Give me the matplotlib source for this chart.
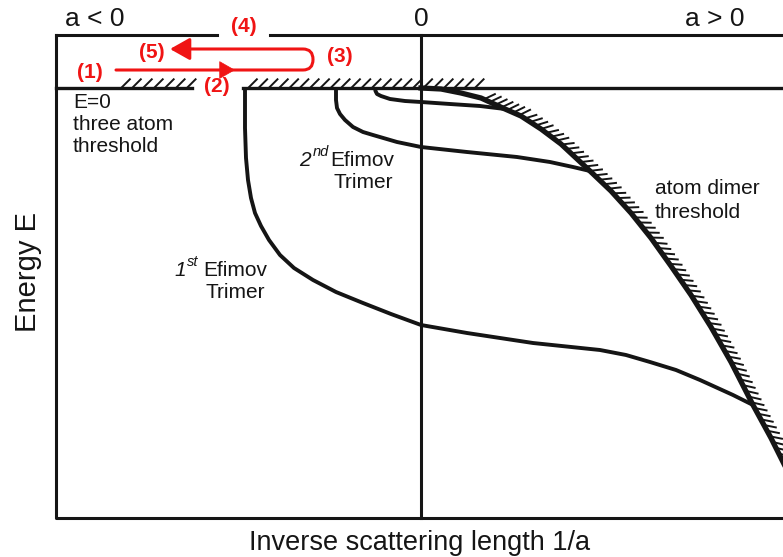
import numpy as np
import matplotlib.pyplot as plt
import matplotlib.patheffects as pe
from matplotlib.path import Path
from matplotlib.patches import FancyArrowPatch

plt.rcParams['font.family'] = ['Liberation Sans', 'DejaVu Sans']

# x = inverse scattering length 1/a (0 at resonance), E = energy (0 at three atom threshold)
dimer_x = [0.0, 0.2, 0.4, 0.6, 0.84, 1.0, 1.2, 1.4, 1.69, 1.9, 2.1, 2.3, 2.5, 2.7, 2.9, 3.1, 3.32, 3.5, 3.65]
dimer_E = [0.0, -0.01, -0.05, -0.10, -0.21, -0.28, -0.41, -0.56, -0.83, -1.03, -1.25, -1.50, -1.78, -2.07,
           -2.39, -2.74, -3.17, -3.50, -3.80]

trimer1_x = [-1.76, -1.76, -1.75, -1.73, -1.70, -1.66, -1.60, -1.52, -1.41, -1.27, -1.08, -0.85, -0.58,
             -0.30, 0.0, 0.46, 1.12, 1.79, 2.05, 2.29, 2.55, 2.79, 3.12, 3.32]
trimer1_E = [0.0, -0.40, -0.70, -0.92, -1.10, -1.25, -1.38, -1.52, -1.67, -1.80, -1.92, -2.04, -2.15,
             -2.26, -2.37, -2.45, -2.55, -2.62, -2.67, -2.74, -2.82, -2.92, -3.07, -3.17]

trimer2_x = [-0.85, -0.85, -0.84, -0.81, -0.76, -0.68, -0.58, -0.48, -0.24, 0.0, 0.46, 0.96, 1.29, 1.52, 1.69]
trimer2_E = [0.0, -0.12, -0.20, -0.26, -0.32, -0.39, -0.44, -0.47, -0.54, -0.59, -0.64, -0.69, -0.74, -0.79, -0.83]

trimer3_x = [-0.46, -0.455, -0.44, -0.40, -0.31, -0.16, 0.0, 0.29, 0.59, 0.84]
trimer3_E = [0.0, -0.03, -0.06, -0.08, -0.11, -0.13, -0.14, -0.16, -0.18, -0.21]

# diagram frame
x_left, x_right = -3.65, 3.62
E_top, E_bottom = 0.53, -4.30
top_gap = (-2.04, -1.51)
threshold_left = (-3.65, -2.29)
threshold_right = (-1.78, 3.62)
hatch_spans = [(-3.62, -3.52), (-3.05, -2.29), (-1.78, 0.59)]
dimer_hatch_from = 0.45

ink = '#151515'
red = '#f01414'

fig = plt.figure(figsize=(7.83, 5.57), dpi=100)
ax = fig.add_axes([0, 0, 1, 1])
ax.set_xlim(-4.21, 3.62)
ax.set_ylim(-4.69, 0.88)
ax.axis('off')

frame = dict(color=ink, lw=2.2, solid_capstyle='projecting')
ax.plot([x_left, x_left, x_right], [E_top, E_bottom, E_bottom], **frame)
ax.plot([x_left, top_gap[0]], [E_top, E_top], **frame)
ax.plot([top_gap[1], x_right], [E_top, E_top], **frame)
ax.plot([0, 0], [E_top, E_bottom], color=ink, lw=2.2)

# E = 0 three atom threshold
ax.plot(threshold_left, [0, 0], color=ink, lw=2.4)
ax.plot(threshold_right, [0, 0], color=ink, lw=2.4)
for a, b in hatch_spans:
    ax.plot([a, b], [0, 0], color=ink,
            path_effects=[pe.TickedStroke(spacing=7.4, angle=45, length=1.2, linewidth=1.4)])

# atom dimer threshold
ax.plot(dimer_x, dimer_E, color=ink, lw=3.8, solid_joinstyle='round')
hx = [x for x in dimer_x if x >= dimer_hatch_from]
hE = [e for x, e in zip(dimer_x, dimer_E) if x >= dimer_hatch_from]
ax.plot(hx, hE, color=ink,
        path_effects=[pe.TickedStroke(spacing=4.6, angle=50, length=1.9, linewidth=1.4)])

# Efimov trimer branches
for tx, tE in [(trimer1_x, trimer1_E), (trimer2_x, trimer2_E), (trimer3_x, trimer3_E)]:
    ax.plot(tx, tE, color=ink, lw=2.8, solid_joinstyle='round', solid_capstyle='butt')

# red loop across the resonance
loop = Path([(-3.05, 0.18), (-1.18, 0.18), (-1.08, 0.18), (-1.08, 0.285),
             (-1.08, 0.39), (-1.18, 0.39), (-2.51, 0.39)],
            [Path.MOVETO, Path.LINETO, Path.CURVE3, Path.CURVE3,
             Path.CURVE3, Path.CURVE3, Path.LINETO])
ax.add_patch(FancyArrowPatch(path=loop, arrowstyle='-|>,head_length=0.8,head_width=0.45',
                             mutation_scale=15, color=red, lw=2.2))
ax.annotate('', xy=(-1.86, 0.18), xytext=(-1.98, 0.18),
            arrowprops=dict(arrowstyle='-|>,head_length=0.7,head_width=0.4', mutation_scale=15,
                            color=red, lw=0.5, shrinkA=0, shrinkB=0))

step_labels = ['(1)', '(2)', '(3)', '(4)', '(5)']
step_x = [-3.31, -2.04, -0.81, -1.77, -2.69]
step_E = [0.16, 0.01, 0.31, 0.61, 0.36]
for s, x, e in zip(step_labels, step_x, step_E):
    ax.text(x, e, s, color=red, fontsize=15, fontweight='bold', ha='center', va='center')

# headings and axis titles
ax.text(-3.26, 0.69, 'a < 0', fontsize=19, ha='center', va='center', color=ink)
ax.text(0, 0.69, '0', fontsize=19, ha='center', va='center', color=ink)
ax.text(2.94, 0.69, 'a > 0', fontsize=19, ha='center', va='center', color=ink)
ax.text(-0.01, -4.55, 'Inverse scattering length 1/a', fontsize=19.5, ha='center', va='center', color=ink)
ax.text(-3.93, -1.84, 'Energy E', fontsize=21, rotation=90, ha='center', va='center', color=ink)

# annotations inside the diagram
lab = dict(fontsize=15, color=ink, va='center')
ax.text(-3.48, -0.15, 'E=0', **lab)
ax.text(-3.48, -0.37, 'three atom', **lab)
ax.text(-3.48, -0.59, 'threshold', **lab)


def efimov_label(x, e, number, suffix, sup_gap, num_gap):
    ax.text(x, e, 'Efimov', ha='left', **lab)
    ax.text(x + 0.03, e - 0.22, 'Trimer', ha='left', **lab)
    ax.annotate(suffix, xy=(x, e), xytext=(-sup_gap, 6), textcoords='offset points',
                ha='right', va='center', fontsize=10.5, style='italic', color=ink)
    ax.annotate(number, xy=(x, e), xytext=(-num_gap, 0), textcoords='offset points',
                ha='right', va='center', fontsize=15, style='italic', color=ink)


efimov_label(-0.91, -0.72, '2', 'nd', 1.0, 14.0)
efimov_label(-2.18, -1.82, '1', 'st', 3.0, 12.5)

ax.text(2.34, -1.00, 'atom dimer', ha='left', **lab)
ax.text(2.34, -1.24, 'threshold', ha='left', **lab)

fig.savefig('out.png', dpi=100)
